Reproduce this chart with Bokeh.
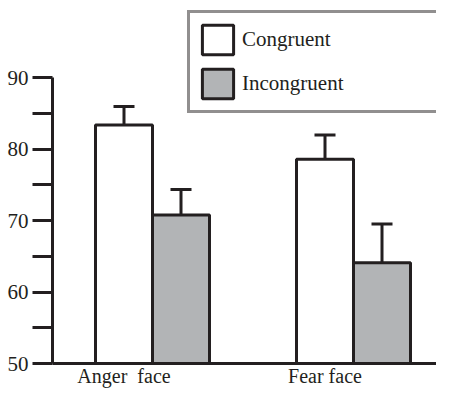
from bokeh.plotting import figure
from bokeh.models import (ColumnDataSource, Range1d, FixedTicker, Whisker, TeeHead,
                          Legend, LegendItem, LinearAxis)
from bokeh.embed import file_html
from bokeh.resources import INLINE

# ---- data ----
categories = ["Anger\u00a0 face", "Fear face"]
congruent = [83.4, 78.6]
incongruent = [70.8, 64.1]
congruent_err_upper = [86.0, 82.0]
congruent_err_lower = [82.2, 77.1]
incongruent_err_upper = [74.35, 69.55]
y_ticks = [50, 60, 70, 80, 90]
y_minor_ticks = [55, 65, 75, 85]

INK = "#231f20"
GRAY = "#b2b4b6"
FONT = "Liberation Serif"

group_x = list(range(len(categories)))
offset = 0.1418
bar_w = 0.2836
cong_x = [round(g - offset, 4) for g in group_x]
inc_x = [round(g + offset, 4) for g in group_x]

src_c = ColumnDataSource(dict(x=cong_x, top=congruent, up=congruent_err_upper, lo=congruent_err_lower))
src_i = ColumnDataSource(dict(x=inc_x, top=incongruent, up=incongruent_err_upper, lo=incongruent))

p = figure(width=436, height=389, output_backend="svg", toolbar_location=None,
           x_range=Range1d(-0.4975, 1.4129), y_range=Range1d(50, 100.83),
           min_border_left=52, min_border_right=0, min_border_top=0, min_border_bottom=23,
           x_axis_type=None, y_axis_type=None)
p.outline_line_color = None
p.background_fill_color = "white"
p.border_fill_color = "white"
p.xgrid.visible = False
p.ygrid.visible = False

# y axis
yax = LinearAxis(ticker=FixedTicker(ticks=y_ticks, minor_ticks=y_minor_ticks))
yax.bounds = (50, 90)
yax.axis_line_width = 3
yax.axis_line_color = INK
yax.major_tick_line_width = 3
yax.major_tick_line_color = INK
yax.minor_tick_line_width = 3
yax.minor_tick_line_color = INK
yax.major_tick_out = 20
yax.major_tick_in = 0
yax.minor_tick_out = 20
yax.minor_tick_in = 0
yax.major_label_standoff = 4
yax.major_label_text_font = FONT
yax.major_label_text_font_size = "21px"
yax.major_label_text_color = INK
p.add_layout(yax, "left")

# x axis: baseline plus category names centred under the congruent bars
xax = LinearAxis(ticker=FixedTicker(ticks=cong_x))
xax.major_label_overrides = {x: name for x, name in zip(cong_x, categories)}
xax.axis_line_width = 3
xax.axis_line_color = INK
xax.major_tick_out = 0
xax.major_tick_in = 0
xax.minor_tick_out = 0
xax.minor_tick_in = 0
xax.major_label_standoff = 1
xax.major_label_text_font = FONT
xax.major_label_text_font_size = "20px"
xax.major_label_text_color = INK
p.add_layout(xax, "below")

rc = p.vbar(x="x", top="top", bottom=50, width=bar_w, source=src_c,
            fill_color="white", line_color=INK, line_width=3)
ri = p.vbar(x="x", top="top", bottom=50, width=bar_w, source=src_i,
            fill_color=GRAY, line_color=INK, line_width=3)

for src in (src_c, src_i):
    w = Whisker(base="x", upper="up", lower="lo", source=src, dimension="height",
                line_color=INK, line_width=3,
                upper_head=TeeHead(size=21, line_color=INK, line_width=3),
                lower_head=None)
    p.add_layout(w)

legend = Legend(items=[LegendItem(label="Congruent", renderers=[rc]),
                       LegendItem(label="Incongruent", renderers=[ri])],
                location=(135, 250), orientation="vertical")
legend.padding = 8
legend.spacing = 7
legend.margin = 0
legend.glyph_width = 39
legend.glyph_height = 37
legend.label_standoff = 5
legend.label_width = 192
legend.label_text_font = FONT
legend.label_text_font_size = "21px"
legend.label_text_color = INK
legend.border_line_color = INK
legend.border_line_width = 3
legend.background_fill_color = "white"
legend.background_fill_alpha = 1.0
p.add_layout(legend)

open("out.html", "w").write(file_html(p, INLINE))
